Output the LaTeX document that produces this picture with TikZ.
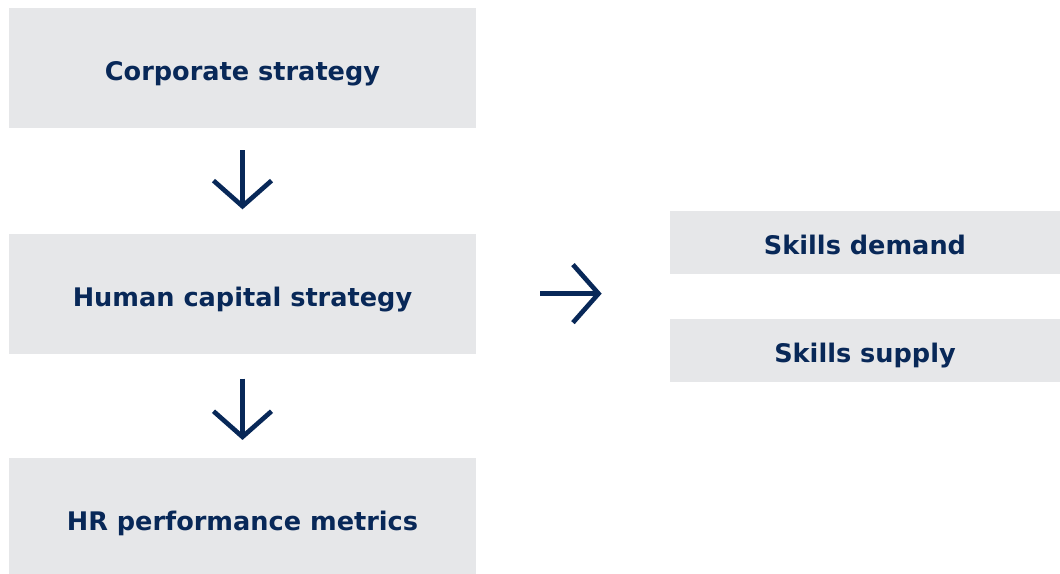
\documentclass[tikz,border=0pt]{standalone}
\usepackage{fontspec}
\setmainfont{DejaVu Sans}
\usepackage{xcolor}
\usepackage{tikz}
\usetikzlibrary{arrows.meta, positioning, calc}
\definecolor{mynavy}{RGB}{8,40,88}
\definecolor{boxgrey}{RGB}{230,231,233}
\tikzset{
  bigbox/.style={rectangle, fill=boxgrey, draw=none,
    minimum width=11.675cm, minimum height=3cm, inner sep=0pt,
    text height=0.62cm, text depth=0pt,
    font=\fontsize{18.2}{20}\selectfont\bfseries, text=mynavy},
  smallbox/.style={rectangle, fill=boxgrey, draw=none,
    minimum width=9.75cm, minimum height=1.575cm, inner sep=0pt,
    text height=0.62cm, text depth=0pt,
    font=\fontsize{18.2}{20}\selectfont\bfseries, text=mynavy},
  flowarrow/.style={-{Straight Barb[length=0.64cm, width=1.45cm]},
    line width=3.3pt, color=mynavy}
}

\begin{document}
\begin{tikzpicture}[x=0.025cm, y=-0.025cm]
  \useasboundingbox[fill=white] (0,0) rectangle (1060,573);

  \node[bigbox] (corp) at (242.5,68) {Corporate strategy};
  \node[bigbox, below=2.625cm of corp] (human) {Human capital strategy};
  \node[bigbox, below=2.6cm of human] (hr) {HR performance metrics};

  \node[smallbox] (demand) at (865,242.5) {Skills demand};
  \node[smallbox, below=1.1cm of demand] (supply) {Skills supply};
  \coordinate (skills) at ($(demand.south west)!0.5!(supply.north west)$);

  \draw[flowarrow, shorten <=0.55cm, shorten >=0.6cm] (corp) -- (human);
  \draw[flowarrow, shorten <=0.62cm, shorten >=0.45cm] (human) -- (hr);
  \draw[flowarrow, shorten <=1.6cm, shorten >=1.7cm] (human.east) -- (human.east -| skills);
\end{tikzpicture}
\end{document}
